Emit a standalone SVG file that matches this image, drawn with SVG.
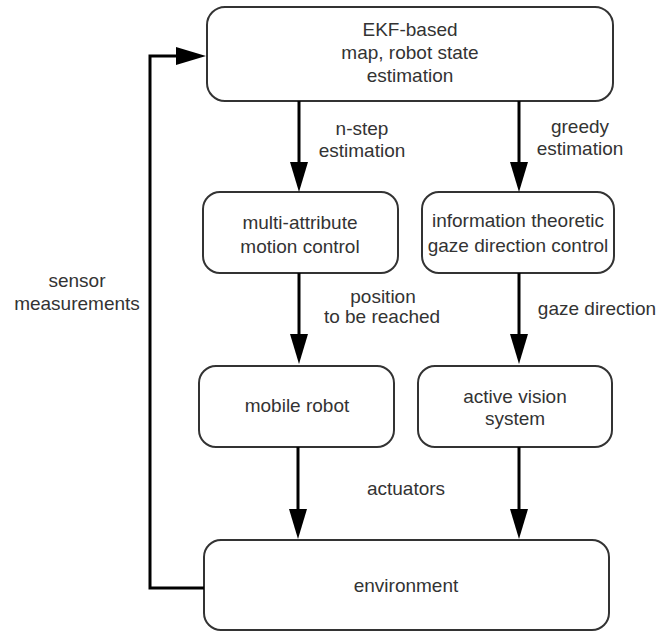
<svg xmlns="http://www.w3.org/2000/svg" width="657" height="632" viewBox="0 0 657 632">
<defs>
<style>
.box{fill:#fff;stroke:#333;stroke-width:2}
.t{font-family:"Liberation Sans",Arial,sans-serif;font-size:19px;fill:#333;text-anchor:middle}
.c{fill:none;stroke:#000;stroke-width:3}
</style>
<marker id="ah" markerUnits="userSpaceOnUse" markerWidth="30" markerHeight="18" refX="15" refY="9" orient="auto">
<path d="M0,0 L30,9 L0,18 z" fill="#000"/>
</marker>
</defs>
<rect width="657" height="632" fill="#fff"/>
<g id="ekf">
<rect class="box" x="207" y="7" width="406" height="94" rx="18"/>
<text class="t" x="410" y="36">EKF-based</text>
<text class="t" x="410" y="59">map, robot state</text>
<text class="t" x="410" y="82">estimation</text>
</g>
<g id="motion">
<rect class="box" x="203" y="192" width="195" height="81" rx="17"/>
<text class="t" x="300" y="229">multi-attribute</text>
<text class="t" x="300" y="253">motion control</text>
</g>
<g id="gaze">
<rect class="box" x="422" y="192" width="192" height="81" rx="17"/>
<text class="t" x="518" y="227">information theoretic</text>
<text class="t" x="518" y="252">gaze direction control</text>
</g>
<g id="robot">
<rect class="box" x="199" y="366" width="195" height="81" rx="17"/>
<text class="t" x="297" y="412">mobile robot</text>
</g>
<g id="vision">
<rect class="box" x="418" y="366" width="194" height="81" rx="17"/>
<text class="t" x="515" y="403">active vision</text>
<text class="t" x="515" y="425">system</text>
</g>
<g id="environment">
<rect class="box" x="204" y="540" width="405" height="90" rx="17"/>
<text class="t" x="406" y="592">environment</text>
</g>
<g id="connectors">
<path class="c" d="M299,101 V177" marker-end="url(#ah)"/>
<path class="c" d="M519,101 V177" marker-end="url(#ah)"/>
<path class="c" d="M299,273 V349" marker-end="url(#ah)"/>
<path class="c" d="M519,273 V349" marker-end="url(#ah)"/>
<path class="c" d="M298,447 V524" marker-end="url(#ah)"/>
<path class="c" d="M519,447 V524" marker-end="url(#ah)"/>
<path class="c" d="M204,588 H150 V56 H191" marker-end="url(#ah)"/>
<text class="t" x="362" y="135">n-step</text>
<text class="t" x="362" y="157">estimation</text>
<text class="t" x="580" y="133">greedy</text>
<text class="t" x="580" y="155">estimation</text>
<text class="t" x="383" y="303">position</text>
<text class="t" x="382" y="323">to be reached</text>
<text class="t" x="597" y="315">gaze direction</text>
<text class="t" x="406" y="495">actuators</text>
<text class="t" x="77" y="287">sensor</text>
<text class="t" x="77" y="310">measurements</text>
</g>
</svg>
